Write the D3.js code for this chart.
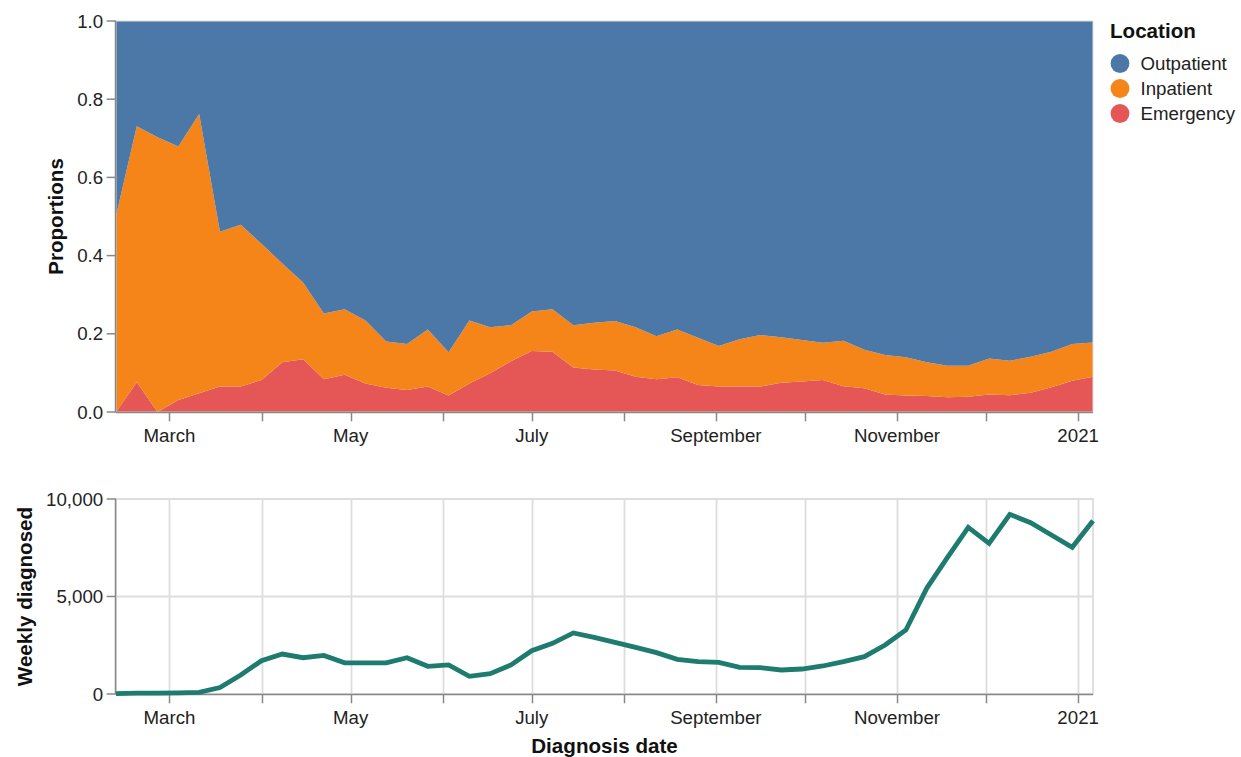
<!DOCTYPE html>
<html>
<head>
<meta charset="utf-8">
<script src="https://cdn.jsdelivr.net/npm/d3@7"></script>
<style>
  html, body { margin: 0; padding: 0; background: #fff; }
  svg { display: block; font-family: "Liberation Sans", Arial, Helvetica, sans-serif; }
</style>
</head>
<body>
<svg id="chart" width="1241" height="757"></svg>
<script>
// ---- Data ----
const startDate = "2020-02-12";   // first weekly point
const weekCount = 48;
const locations = ["Outpatient", "Inpatient", "Emergency"];
const locationColors = ["#4c78a8", "#f58518", "#e45756"];

const emergency = [0.000, 0.076, 0.000, 0.031, 0.048, 0.065, 0.065, 0.082, 0.127, 0.135,
                   0.084, 0.095, 0.073, 0.062, 0.056, 0.065, 0.042, 0.073, 0.099, 0.130,
                   0.156, 0.154, 0.114, 0.109, 0.106, 0.090, 0.084, 0.089, 0.069, 0.065,
                   0.065, 0.065, 0.075, 0.078, 0.082, 0.066, 0.061, 0.045, 0.042, 0.041,
                   0.038, 0.039, 0.045, 0.043, 0.049, 0.063, 0.080, 0.090];
const inpatient = [0.501, 0.655, 0.703, 0.648, 0.714, 0.396, 0.414, 0.348, 0.253, 0.196,
                   0.168, 0.168, 0.161, 0.118, 0.118, 0.146, 0.111, 0.161, 0.118, 0.092,
                   0.101, 0.109, 0.108, 0.119, 0.127, 0.127, 0.110, 0.122, 0.121, 0.104,
                   0.121, 0.132, 0.116, 0.106, 0.095, 0.116, 0.098, 0.101, 0.098, 0.086,
                   0.080, 0.079, 0.092, 0.088, 0.092, 0.091, 0.094, 0.088];
const outpatient = [0.499, 0.269, 0.297, 0.321, 0.238, 0.539, 0.521, 0.570, 0.620, 0.669,
                    0.748, 0.737, 0.766, 0.820, 0.826, 0.789, 0.847, 0.766, 0.783, 0.778,
                    0.743, 0.737, 0.778, 0.772, 0.767, 0.783, 0.806, 0.789, 0.810, 0.831,
                    0.814, 0.803, 0.809, 0.816, 0.823, 0.818, 0.841, 0.854, 0.860, 0.873,
                    0.882, 0.882, 0.863, 0.869, 0.859, 0.846, 0.826, 0.822];
const weeklyDiagnosed = [20, 40, 50, 60, 80, 330, 975, 1710, 2050, 1860,
                         1980, 1600, 1600, 1600, 1860, 1420, 1490, 905, 1040, 1490,
                         2220, 2600, 3130, 2900, 2650, 2393, 2120, 1778, 1658, 1624,
                         1368, 1350, 1231, 1282, 1436, 1658, 1915, 2513, 3282, 5419,
                         7009, 8547, 7727, 9214, 8786, 8154, 7521, 8889];
const propTicks = [0, 0.2, 0.4, 0.6, 0.8, 1.0];
const countTicks = [0, 5000, 10000];

// ---- Build rows ----
const t0 = new Date(startDate + "T00:00:00Z");
const dates = d3.range(weekCount).map(i => d3.utcDay.offset(t0, 7 * i));
const rows = dates.map((d, i) => ({
  date: d,
  Emergency: emergency[i],
  Inpatient: inpatient[i],
  Outpatient: outpatient[i],
  count: weeklyDiagnosed[i]
}));

// ---- Layout ----
const svg = d3.select("#chart");
const left = 116, right = 1093;
const top1 = 21, bot1 = 412;
const top2 = 499, bot2 = 694;
const labelSize = 18.7, titleSize = 20.6;
const tickLen = 9.3;
const axisColor = "#888", gridColor = "#ddd", textColor = "#222", titleColor = "#111";

const x = d3.scaleUtc().domain([dates[0], dates[dates.length - 1]]).range([left, right]);
const y1 = d3.scaleLinear().domain([0, 1]).range([bot1, top1]);
const y2 = d3.scaleLinear().domain([0, 10000]).range([bot2, top2]);
const color = d3.scaleOrdinal().domain(locations).range(locationColors);

const monthTicks = x.ticks(d3.utcMonth.every(1));
const monthFmt = d3.utcFormat("%B");
const labelFor = d => d.getUTCMonth() === 0 ? d3.utcFormat("%Y")(d) : monthFmt(d);
const showLabel = d => d.getUTCMonth() % 2 === 0; // Jan, Mar, May, ...

// ---- Top: normalized stacked area ----
const stackOrder = ["Emergency", "Inpatient", "Outpatient"];
const stacked = d3.stack().keys(stackOrder)(rows);
const area = d3.area()
  .x(d => x(d.data.date))
  .y0(d => y1(d[0]))
  .y1(d => y1(d[1]))
  .curve(d3.curveLinear);

const g1 = svg.append("g");
g1.selectAll("path.area").data(stacked).join("path")
  .attr("class", "area")
  .attr("d", area)
  .attr("fill", d => color(d.key));

g1.append("rect").attr("x", left).attr("y", top1).attr("width", right - left).attr("height", bot1 - top1)
  .attr("fill", "none").attr("stroke", gridColor).attr("stroke-width", 1);

function drawXAxis(g, yBase) {
  g.append("line").attr("x1", left).attr("x2", right).attr("y1", yBase + 0.5).attr("y2", yBase + 0.5)
    .attr("stroke", axisColor).attr("stroke-width", 1.5);
  g.selectAll("line.xt").data(monthTicks).join("line").attr("class", "xt")
    .attr("x1", d => Math.round(x(d)) + 0.5).attr("x2", d => Math.round(x(d)) + 0.5)
    .attr("y1", yBase).attr("y2", yBase + tickLen)
    .attr("stroke", axisColor).attr("stroke-width", 1.5);
  g.selectAll("text.xl").data(monthTicks.filter(showLabel)).join("text").attr("class", "xl")
    .attr("x", d => x(d)).attr("y", yBase + 30)
    .attr("text-anchor", "middle").attr("font-size", labelSize).attr("fill", textColor)
    .text(labelFor);
}
function drawYAxis(g, scale, ticks, fmt) {
  const [yb, yt] = scale.range();
  g.append("line").attr("x1", left - 0.5).attr("x2", left - 0.5).attr("y1", yt).attr("y2", yb)
    .attr("stroke", axisColor).attr("stroke-width", 1.5);
  g.selectAll("line.yt").data(ticks).join("line").attr("class", "yt")
    .attr("x1", left - tickLen).attr("x2", left)
    .attr("y1", d => scale(d)).attr("y2", d => scale(d))
    .attr("stroke", axisColor).attr("stroke-width", 1.5);
  g.selectAll("text.yl").data(ticks).join("text").attr("class", "yl")
    .attr("x", left - tickLen - 3.5).attr("y", d => scale(d))
    .attr("dy", "0.35em")
    .attr("text-anchor", "end").attr("font-size", labelSize).attr("fill", textColor)
    .text(fmt);
}

drawXAxis(g1, bot1);
drawYAxis(g1, y1, propTicks, d3.format(".1f"));
g1.append("text")
  .attr("transform", `translate(63,${(top1 + bot1) / 2}) rotate(-90)`)
  .attr("text-anchor", "middle").attr("font-size", titleSize).attr("font-weight", "bold")
  .attr("fill", titleColor).text("Proportions");

// ---- Legend ----
const lg = svg.append("g");
lg.append("text").attr("x", 1110).attr("y", 38).attr("font-size", titleSize).attr("font-weight", "bold")
  .attr("fill", titleColor).text("Location");
const items = lg.selectAll("g.item").data(locations).join("g").attr("class", "item")
  .attr("transform", (d, i) => `translate(1120,${63.5 + i * 25})`);
items.append("circle").attr("r", 9.4).attr("fill", d => color(d));
items.append("text").attr("x", 20.5).attr("dy", "0.35em").attr("font-size", labelSize)
  .attr("fill", textColor).text(d => d);

// ---- Bottom: weekly diagnosed line ----
const g2 = svg.append("g");
g2.selectAll("line.gx").data(monthTicks).join("line").attr("class", "gx")
  .attr("x1", d => Math.round(x(d)) + 0.5).attr("x2", d => Math.round(x(d)) + 0.5)
  .attr("y1", top2).attr("y2", bot2).attr("stroke", gridColor).attr("stroke-width", 1.8);
g2.selectAll("line.gy").data(countTicks).join("line").attr("class", "gy")
  .attr("x1", left).attr("x2", right).attr("y1", d => y2(d)).attr("y2", d => y2(d))
  .attr("stroke", gridColor).attr("stroke-width", 1.8);
g2.append("rect").attr("x", left).attr("y", top2).attr("width", right - left).attr("height", bot2 - top2)
  .attr("fill", "none").attr("stroke", gridColor).attr("stroke-width", 1.8);

drawXAxis(g2, bot2);
drawYAxis(g2, y2, countTicks, d3.format(","));

const line = d3.line().x(d => x(d.date)).y(d => y2(d.count));
g2.append("path").datum(rows).attr("d", line)
  .attr("fill", "none").attr("stroke", "#1e7b6f").attr("stroke-width", 4.8)
  .attr("stroke-linejoin", "miter");

g2.append("text")
  .attr("transform", `translate(32,${(top2 + bot2) / 2}) rotate(-90)`)
  .attr("text-anchor", "middle").attr("font-size", titleSize).attr("font-weight", "bold")
  .attr("fill", titleColor).text("Weekly diagnosed");
g2.append("text")
  .attr("x", (left + right) / 2).attr("y", 753)
  .attr("text-anchor", "middle").attr("font-size", titleSize).attr("font-weight", "bold")
  .attr("fill", titleColor).text("Diagnosis date");
</script>
</body>
</html>
